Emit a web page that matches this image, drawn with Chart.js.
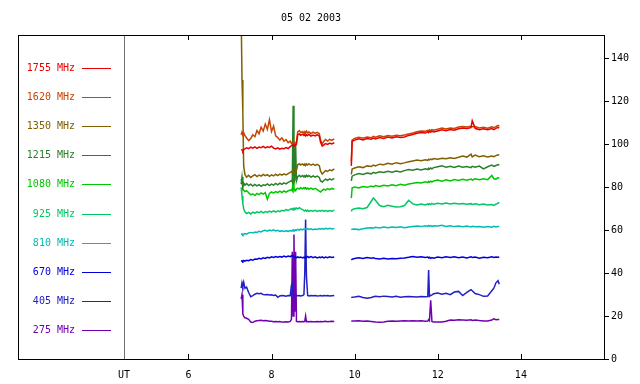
<!DOCTYPE html>
<html>
<head>
<meta charset="utf-8">
<script src="https://cdn.jsdelivr.net/npm/chart.js@4"></script>
<style>
html,body{margin:0;padding:0;background:#fff;}
#wrap{width:640px;height:384px;position:relative;}
</style>
</head>
<body>
<div id="wrap"><canvas id="c" width="640" height="384"></canvas></div>
<script>
// ---- DATA ----
const title = '05 02 2003';
const seriesLabels = ['1755 MHz','1620 MHz','1350 MHz','1215 MHz','1080 MHz','925 MHz','810 MHz','670 MHz','405 MHz','275 MHz'];
const xTickValues = [6, 8, 10, 12, 14];
const yTickValues = [0, 20, 40, 60, 80, 100, 120, 140];
const utMark = 4.45;

const times1 = [
 7.27,7.29,7.31,7.33,7.36,7.40,7.45,7.50,7.55,7.60,
 7.65,7.70,7.75,7.80,7.85,7.90,7.95,8.00,8.05,8.10,
 8.15,8.20,8.25,8.30,8.35,8.40,8.45,8.48,8.50,8.52,
 8.54,8.56,8.58,8.60,8.63,8.67,8.70,8.75,8.78,8.80,
 8.82,8.84,8.87,8.90,8.95,9.00,9.05,9.10,9.15,9.18,
 9.22,9.26,9.30,9.35,9.40,9.45,9.51];
const times2 = [
 9.92,9.94,10.0,10.1,10.2,10.3,10.4,10.45,10.5,10.6,
 10.7,10.8,10.9,11.0,11.1,11.2,11.3,11.4,11.5,11.6,
 11.7,11.76,11.78,11.80,11.83,11.86,11.9,12.0,12.1,12.2,
 12.3,12.4,12.5,12.6,12.7,12.8,12.83,12.9,13.0,13.1,
 13.2,13.3,13.35,13.4,13.45,13.48];

const f1755a = [
 97.2,97.5,96.8,97.6,97.9,98.4,98.0,98.7,98.3,98.9,
 98.2,98.8,98.5,99.1,98.4,98.9,98.6,99.2,98.3,97.9,
 98.4,97.8,98.2,98.0,98.5,98.1,99.0,99.4,99.7,100.0,
 99.5,99.9,99.6,100.2,104.5,104.9,104.3,104.8,104.2,104.6,
 104.0,104.5,104.1,104.7,103.9,104.4,104.0,104.6,103.8,101.0,
 99.2,99.8,100.4,100.0,100.6,100.2,100.8];
const f1755b = [
 90.0,101.5,102.0,102.6,102.1,102.8,102.4,103.0,102.6,103.2,
 102.8,103.4,103.0,103.6,103.2,103.5,104.2,104.6,105.2,105.6,
 105.3,105.9,105.5,106.0,105.7,106.2,105.8,106.3,106.8,106.4,
 107.0,106.6,107.3,107.6,107.4,107.8,111.0,107.5,106.9,107.3,
 106.8,107.4,106.9,107.5,108.0,107.6];

const f1620a = [
 104.5,105.8,104.8,105.5,104.2,103.0,101.8,102.8,104.5,103.6,
 106.5,105.0,108.0,106.2,109.5,107.0,111.5,106.0,108.5,104.0,
 103.2,102.0,103.0,101.5,102.3,100.8,101.5,100.5,101.0,100.4,
 100.9,100.3,100.8,101.0,105.8,106.4,105.5,106.0,105.2,105.9,
 105.3,106.2,105.4,105.8,105.0,105.7,105.1,105.6,105.0,102.0,
 100.2,101.5,102.3,101.6,102.4,101.9,102.6];
const f1620b = [
 92.0,102.0,102.8,103.3,102.9,103.5,103.1,103.8,103.4,104.0,
 103.6,104.1,103.8,104.3,104.0,104.4,104.9,105.3,105.9,106.3,
 106.1,106.6,106.2,106.8,106.4,106.9,106.6,107.1,107.6,107.2,
 107.7,107.4,108.1,108.3,108.1,108.5,108.2,108.3,107.7,108.0,
 107.6,108.2,107.8,108.3,108.9,108.5];

const f1350a = [
 160,130,115,90,86.0,84.8,85.6,84.6,85.3,85.9,
 85.0,85.7,85.2,86.0,85.4,85.9,85.1,85.8,85.3,86.1,
 85.5,86.2,85.7,86.3,85.8,86.4,87.0,87.4,86.8,87.5,
 87.0,87.6,87.2,88.0,90.5,91.0,90.4,90.9,90.3,90.8,
 90.2,90.9,90.4,91.0,90.3,90.8,90.2,90.7,90.1,87.5,
 86.2,87.0,87.8,87.4,88.2,87.8,88.6];
const f1350b = [
 86.0,88.5,89.0,89.6,89.2,90.0,89.7,90.4,90.0,90.8,
 90.5,91.2,90.8,91.5,91.0,91.4,91.9,92.3,92.7,92.4,
 92.9,92.6,93.1,92.8,93.2,92.9,93.4,93.1,93.6,93.3,
 93.8,93.5,94.0,94.6,94.1,95.5,94.2,95.0,94.3,94.7,
 94.2,94.6,94.3,94.8,95.2,95.0];

const f1215a = [
 81.5,84.8,80.5,82.0,81.0,81.8,80.8,81.5,80.6,81.4,
 80.7,81.3,80.5,81.2,80.9,81.6,80.8,81.5,81.0,81.8,
 81.2,82.0,81.4,82.1,81.6,82.3,82.8,83.2,82.6,118.0,
 82.5,83.5,100.0,83.0,85.0,85.6,84.9,85.5,84.8,85.4,
 84.9,85.6,85.0,85.5,84.8,85.3,84.7,85.2,84.6,83.0,
 82.5,83.2,83.8,83.3,84.0,83.5,84.2];
const f1215b = [
 83.0,85.2,85.8,86.4,86.0,86.7,86.3,87.0,86.6,87.3,
 86.9,87.5,87.1,87.6,87.2,87.8,88.3,88.0,88.5,88.1,
 88.7,88.3,88.9,88.5,89.0,88.6,89.2,89.6,90.0,89.4,
 89.8,89.3,89.9,89.4,89.7,89.2,89.8,89.4,89.9,88.6,
 89.6,90.4,89.8,90.2,90.6,90.3];

const f1080a = [
 84.0,82.5,79.5,78.6,78.0,78.4,77.5,76.5,77.0,76.2,
 77.2,76.6,77.4,76.8,77.5,74.5,77.2,77.9,77.3,78.0,
 77.5,78.2,77.6,78.3,77.8,78.4,78.6,79.0,78.4,84.0,
 78.3,79.0,78.5,79.2,79.6,79.2,79.8,79.3,79.9,79.4,
 79.8,79.2,79.7,79.1,79.6,79.0,79.5,78.9,78.2,77.8,
 78.6,79.2,78.7,79.4,78.9,79.5,79.1];
const f1080b = [
 75.0,79.8,80.2,79.7,80.4,80.0,80.6,80.2,80.8,80.4,
 81.0,80.6,81.2,80.8,81.4,81.0,81.6,81.9,82.3,82.0,
 82.6,82.2,82.8,82.4,82.9,82.5,83.0,83.4,82.9,83.5,
 83.0,83.6,83.2,83.8,83.3,83.9,83.4,84.0,83.5,84.0,
 83.6,85.5,84.0,83.8,84.5,84.2];

const f925a = [
 80.0,76.0,72.5,70.0,68.6,67.8,68.3,67.6,68.4,68.0,
 68.6,68.2,68.8,68.1,68.7,68.3,68.9,68.4,69.0,68.5,
 69.1,68.7,69.3,69.0,69.6,69.2,69.8,70.0,69.6,70.2,
 69.8,70.3,69.9,70.4,70.0,70.5,70.1,69.6,69.2,69.0,
 69.4,68.9,69.3,68.8,69.2,68.9,69.3,68.8,69.2,68.9,
 69.3,68.9,69.2,68.8,69.2,68.9,69.3];
const f925b = [
 68.8,69.6,70.0,70.4,70.0,70.6,73.5,75.0,74.0,71.5,
 71.0,71.6,71.2,70.8,71.0,71.5,74.0,72.3,71.8,72.2,
 71.8,72.3,71.9,72.4,72.0,72.5,72.1,72.6,72.2,72.7,
 72.3,72.6,72.2,72.5,72.1,72.4,72.0,72.3,71.9,72.2,
 71.8,72.0,71.6,72.2,72.6,73.0];

const f810a = [
 58.0,58.3,57.8,58.2,58.5,58.2,58.8,59.0,58.7,59.2,
 59.0,59.5,59.2,59.8,60.0,59.6,60.1,59.8,60.2,59.7,
 60.0,59.5,59.8,59.4,59.8,59.5,59.9,59.6,60.0,59.7,
 60.1,59.8,60.2,60.0,60.4,60.1,60.5,60.2,60.6,60.3,
 60.7,60.4,60.8,60.4,60.7,60.3,60.6,60.4,60.8,60.5,
 60.8,60.5,60.9,60.6,60.9,60.6,60.8];
const f810b = [
 60.3,60.5,60.6,60.3,60.7,61.0,61.2,61.0,61.4,61.1,
 61.5,61.2,61.5,61.3,61.6,61.2,61.5,61.8,62.0,61.7,
 62.1,61.8,62.2,61.9,62.2,61.8,62.1,62.0,62.3,61.8,
 62.1,61.7,62.0,61.6,62.0,61.5,61.9,61.6,61.8,61.4,
 61.7,61.4,61.8,61.5,61.7,61.8];

const f670a = [
 45.4,45.8,45.5,45.9,45.6,46.0,45.8,46.3,46.0,46.6,
 46.5,46.9,46.6,47.2,46.9,47.4,47.1,47.6,47.3,47.7,
 47.4,47.8,47.5,48.0,47.6,48.0,47.7,48.1,47.8,48.2,
 47.7,48.0,47.5,47.2,47.6,47.2,47.5,47.1,47.5,47.2,
 47.6,47.2,47.8,47.3,47.7,47.2,47.6,47.1,47.5,47.2,
 47.6,47.1,47.5,47.2,47.6,47.3,47.5];
const f670b = [
 46.2,46.5,46.8,47.2,46.9,47.3,47.0,47.2,46.8,46.6,
 46.9,46.6,46.8,46.7,46.9,47.1,47.4,47.8,47.4,47.7,
 47.3,47.5,47.1,47.4,46.9,47.3,47.0,47.5,47.2,47.6,
 47.3,47.7,47.2,47.5,47.1,47.6,47.3,47.5,47.0,47.4,
 47.2,47.6,47.3,47.5,47.4,47.5];

const f405a = [
 33.0,35.5,34.0,35.8,33.0,33.5,31.0,29.0,29.5,30.2,
 30.6,30.4,30.6,30.0,29.9,30.0,29.8,29.9,29.6,29.8,
 28.8,29.4,29.6,29.5,29.3,29.6,29.5,34.5,35.2,29.8,
 29.5,29.6,29.4,29.6,29.5,29.6,29.4,29.6,30.0,40.0,
 65.0,38.5,29.6,29.4,29.6,29.5,29.6,29.4,29.5,29.6,
 29.4,29.6,29.5,29.6,29.4,29.5,29.6];
const f405b = [
 28.6,28.8,28.9,29.2,28.7,28.3,28.7,29.0,29.2,29.0,
 29.3,29.1,28.9,29.2,28.8,29.0,29.1,29.0,28.9,29.1,
 29.0,29.1,41.5,29.2,29.6,29.9,30.4,30.8,30.2,30.6,
 30.0,31.2,31.5,29.6,31.0,32.3,31.8,30.5,30.0,29.2,
 29.4,31.8,33.0,35.5,36.5,34.8];

const f275a = [
 28.0,30.0,21.0,20.0,19.2,19.0,18.5,17.2,17.0,17.6,
 17.8,17.9,18.0,17.8,17.9,17.8,17.6,17.6,17.4,17.5,
 17.4,17.5,17.2,17.3,17.4,17.3,17.5,18.5,50.0,20.0,
 58.0,22.0,50.0,17.5,17.4,17.5,17.4,17.5,17.4,17.5,
 20.0,17.4,17.5,17.4,17.5,17.4,17.4,17.5,17.4,17.5,
 17.4,17.5,17.6,17.4,17.5,17.6,17.5];
const f275b = [
 17.6,17.7,17.7,17.8,17.6,17.7,17.5,17.4,17.2,17.1,
 17.2,17.6,17.7,17.6,17.7,17.8,17.7,17.8,17.7,17.8,
 17.6,17.7,18.4,17.9,27.4,17.5,17.2,17.3,17.2,17.6,
 18.2,18.1,18.3,18.2,18.1,18.3,18.0,18.2,17.9,17.7,
 17.7,18.2,18.7,18.3,18.4,18.4];

// ---- STYLE ----
const seriesColors = ['#e80000','#c84400','#806000','#288028','#00c800','#00c864','#00bcb4','#0000dc','#2020c4','#7000b0'];
const seg1 = [f1755a,f1620a,f1350a,f1215a,f1080a,f925a,f810a,f670a,f405a,f275a];
const seg2 = [f1755b,f1620b,f1350b,f1215b,f1080b,f925b,f810b,f670b,f405b,f275b];
const FONT = '"DejaVu Sans Mono", "Liberation Mono", monospace';

function buildPoints(a, b) {
  const pts = times1.map((t, i) => ({x: t, y: a[i]}));
  pts.push({x: (times1[times1.length-1] + times2[0]) / 2, y: null});
  times2.forEach((t, i) => pts.push({x: t, y: b[i]}));
  return pts;
}

const datasets = seriesLabels.map((lab, i) => ({
  label: lab,
  data: buildPoints(seg1[i], seg2[i]),
  borderColor: seriesColors[i],
  backgroundColor: seriesColors[i],
  borderWidth: 1.5,
  pointRadius: 0,
  tension: 0,
  spanGaps: false,
  fill: false
}));

const decor = {
  id: 'decor',
  beforeDatasetsDraw(chart) {
    const {ctx, chartArea: a, scales: {x}} = chart;
    const ux = Math.round(x.getPixelForValue(utMark)) + 0.5;
    ctx.save();
    ctx.strokeStyle = '#707070';
    ctx.lineWidth = 1;
    ctx.beginPath();
    ctx.moveTo(ux, a.top); ctx.lineTo(ux, a.bottom);
    ctx.stroke();
    ctx.restore();
  },
  afterDraw(chart) {
    const {ctx, chartArea: a, scales: {x}} = chart;
    ctx.save();
    ctx.strokeStyle = '#000';
    ctx.lineWidth = 1;
    ctx.strokeRect(Math.round(a.left) + 0.5, Math.round(a.top) + 0.5,
                   Math.round(a.right - a.left), Math.round(a.bottom - a.top));
    ctx.beginPath();
    xTickValues.forEach(v => {
      const px = Math.round(x.getPixelForValue(v)) + 0.5;
      ctx.moveTo(px, a.bottom); ctx.lineTo(px, a.bottom - 5);
      ctx.moveTo(px, a.top); ctx.lineTo(px, a.top + 5);
    });
    ctx.stroke();
    ctx.fillStyle = '#000';
    ctx.font = '10px ' + FONT;
    ctx.textAlign = 'center';
    ctx.textBaseline = 'middle';
    ctx.fillText(title, (a.left + a.right) / 2, 18);
    ctx.textAlign = 'right';
    chart.data.datasets.forEach((ds, i) => {
      const y = Math.round(68 + i * 29.1);
      ctx.fillStyle = ds.borderColor;
      ctx.fillText(ds.label, 75, y);
      ctx.strokeStyle = ds.borderColor;
      ctx.beginPath();
      ctx.moveTo(82, y + 0.5); ctx.lineTo(111, y + 0.5);
      ctx.stroke();
    });
    ctx.restore();
  }
};

new Chart(document.getElementById('c'), {
  type: 'line',
  data: { datasets },
  plugins: [decor],
  options: {
    responsive: false,
    animation: false,
    events: [],
    layout: { padding: { top: 35, left: 18, right: 0, bottom: 0 } },
    plugins: { legend: { display: false }, title: { display: false }, tooltip: { enabled: false } },
    scales: {
      x: {
        type: 'linear',
        min: 1.9, max: 16.0,
        grid: { display: false },
        border: { display: false },
        afterBuildTicks: s => { s.ticks = [utMark].concat(xTickValues).map(v => ({value: v})); },
        afterFit: s => { s.height = 25; },
        ticks: {
          color: '#000',
          font: { family: FONT, size: 10 },
          padding: 2,
          maxRotation: 0,
          autoSkip: false,
          callback: v => (v === utMark ? 'UT' : String(v))
        }
      },
      y: {
        position: 'right',
        min: 0, max: 151,
        grid: { drawOnChartArea: false, drawTicks: true, tickLength: 5, color: '#000' },
        border: { display: false },
        afterBuildTicks: s => { s.ticks = yTickValues.map(v => ({value: v})); },
        afterFit: s => { s.width = 36; },
        ticks: {
          color: '#000',
          font: { family: FONT, size: 10 },
          padding: 2,
          autoSkip: false
        }
      }
    }
  }
});
</script>
</body>
</html>
